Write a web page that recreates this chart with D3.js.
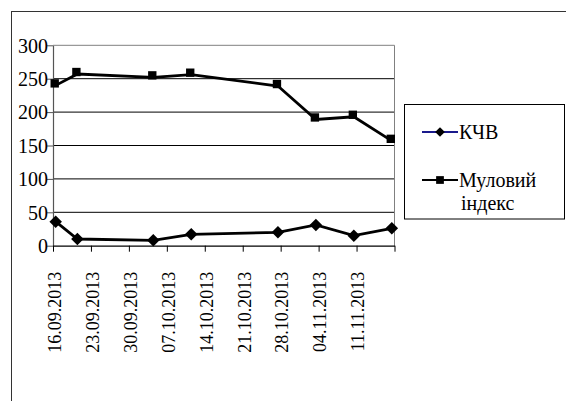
<!DOCTYPE html>
<html>
<head>
<meta charset="utf-8">
<script src="https://cdn.jsdelivr.net/npm/d3@7"></script>
<style>
  @font-face {
    font-family: "ChartSerif";
    src: local("Liberation Serif"), local("LiberationSerif"), local("LiberationSerif-Regular"), local("Times New Roman");
  }
</style>
</head>
<body style="margin:0">
<svg id="chart" width="566" height="401"></svg>
<script>
// Sampling dates and measured values
const sampleDates = ["16.09.2013", "20.09.2013", "04.10.2013", "11.10.2013",
                     "27.10.2013", "03.11.2013", "10.11.2013", "17.11.2013"];
const kchv = [36, 10, 8, 17, 20, 31, 15, 26];
const mulIndex = [240, 257, 252, 256, 239, 189, 193, 157];

// Axis labels
const xTickLabels = ["16.09.2013", "23.09.2013", "30.09.2013", "07.10.2013", "14.10.2013",
                     "21.10.2013", "28.10.2013", "04.11.2013", "11.11.2013"];
const xDomain = ["16.09.2013", "18.11.2013"];
const yTicks = [0, 50, 100, 150, 200, 250, 300];
const seriesNames = ["КЧВ", "Муловий індекс"];

const parse = d3.timeParse("%d.%m.%Y");
const fmt = d3.timeFormat("%d.%m.%Y");

// serif text helper
const serif = (sel, size) => sel
  .style("font-family", '"Liberation Serif", "ChartSerif"')
  .attr("font-size", size);

const svg = d3.select("#chart");

// white background
svg.append("rect").attr("width", 566).attr("height", 401).attr("fill", "#fff");

// Outer chart frame (runs past the right and bottom edges)
svg.append("rect")
  .attr("x", 11.5).attr("y", 11.5)
  .attr("width", 600).attr("height", 420)
  .attr("fill", "none").attr("stroke", "#333").attr("stroke-width", 1);

const x = d3.scaleTime()
  .domain(xDomain.map(parse))
  .range([53, 394.5]);
const y = d3.scaleLinear()
  .domain([0, 300])
  .range([245.7, 45.3]);

// points sit in the middle of their day slot
const px = s => x(d3.timeHour.offset(parse(s), 12));

// gridlines
svg.append("g")
  .selectAll("line")
  .data(yTicks.filter(v => v > 0 && v < 300))
  .join("line")
  .attr("x1", x.range()[0]).attr("x2", x.range()[1])
  .attr("y1", d => y(d)).attr("y2", d => y(d))
  .attr("stroke", "#000").attr("stroke-width", 1);

// plot area border (top and right)
svg.append("path")
  .attr("d", `M${x.range()[0]},${y(300)}H${x.range()[1]}V${y(0)}`)
  .attr("fill", "none").attr("stroke", "#808080").attr("stroke-width", 1);

// y axis
const yAxis = svg.append("g")
  .attr("transform", `translate(${x.range()[0]},0)`)
  .call(d3.axisLeft(y).tickValues(yTicks).tickSize(6).tickSizeOuter(0).tickPadding(0));
yAxis.attr("font-family", null);
yAxis.select(".domain").attr("stroke", "#555").attr("stroke-width", 1.2);
yAxis.selectAll(".tick line").attr("stroke", "#555");
serif(yAxis.selectAll("text"), 20)
  .attr("fill", "#000")
  .attr("x", -5).attr("dy", "0.34em");

// x axis
const xTickValues = d3.timeMonday.range(parse(xDomain[0]), d3.timeDay.offset(parse(xDomain[1]), 1));
const xAxis = svg.append("g")
  .attr("transform", `translate(0,${y(0)})`)
  .call(d3.axisBottom(x).tickValues(xTickValues).tickSize(6).tickSizeOuter(0)
    .tickFormat(d => xTickLabels.includes(fmt(d)) ? fmt(d) : ""));
xAxis.attr("font-family", null);
xAxis.select(".domain").attr("stroke", "#000").attr("stroke-width", 1.2);
xAxis.selectAll(".tick line").attr("stroke", "#000");
serif(xAxis.selectAll("text"), 18)
  .attr("fill", "#000")
  .attr("transform", "rotate(-90)")
  .attr("text-anchor", "end")
  .attr("x", -26).attr("y", 1).attr("dy", "0.35em");

// series lines
const line = d3.line().x(d => px(d.date)).y(d => y(d.v));
const kchvData = sampleDates.map((d, i) => ({ date: d, v: kchv[i] }));
const mulData = sampleDates.map((d, i) => ({ date: d, v: mulIndex[i] }));

svg.append("path").datum(mulData)
  .attr("d", line).attr("fill", "none")
  .attr("stroke", "#000").attr("stroke-width", 2.8).attr("stroke-linejoin", "miter");
svg.append("path").datum(kchvData)
  .attr("d", line).attr("fill", "none")
  .attr("stroke", "#000").attr("stroke-width", 2.8).attr("stroke-linejoin", "miter");

const diamond = d3.symbol().type(d3.symbolDiamond2).size(100);
const square = d3.symbol().type(d3.symbolSquare).size(70);

svg.append("g").selectAll("path")
  .data(kchvData).join("path")
  .attr("d", diamond)
  .attr("transform", d => `translate(${px(d.date)},${y(d.v)})`)
  .attr("fill", "#000");

svg.append("g").selectAll("path")
  .data(mulData).join("path")
  .attr("d", square)
  .attr("transform", d => `translate(${px(d.date) - 1},${y(d.v) - 2})`)
  .attr("fill", "#000");

// legend
svg.append("rect")
  .attr("x", 404.5).attr("y", 104.5).attr("width", 160).attr("height", 114.5)
  .attr("fill", "#fff").attr("stroke", "#000").attr("stroke-width", 1);

svg.append("line")
  .attr("x1", 422).attr("x2", 458).attr("y1", 132).attr("y2", 132)
  .attr("stroke", "#1a1a8c").attr("stroke-width", 2);
svg.append("path")
  .attr("d", d3.symbol().type(d3.symbolDiamond2).size(60))
  .attr("transform", "translate(440,132)").attr("fill", "#000");
serif(svg.append("text"), 20)
  .attr("x", 459).attr("y", 138.5).text(seriesNames[0]);

svg.append("line")
  .attr("x1", 422).attr("x2", 458).attr("y1", 180).attr("y2", 180)
  .attr("stroke", "#000").attr("stroke-width", 2);
svg.append("path")
  .attr("d", d3.symbol().type(d3.symbolSquare).size(60))
  .attr("transform", "translate(440,180)").attr("fill", "#000");
const nameParts = seriesNames[1].split(" ");
serif(svg.append("text"), 20)
  .attr("x", 459).attr("y", 187).text(nameParts[0]);
serif(svg.append("text"), 20)
  .attr("x", 461).attr("y", 210).text(nameParts[1]);
</script>
</body>
</html>
